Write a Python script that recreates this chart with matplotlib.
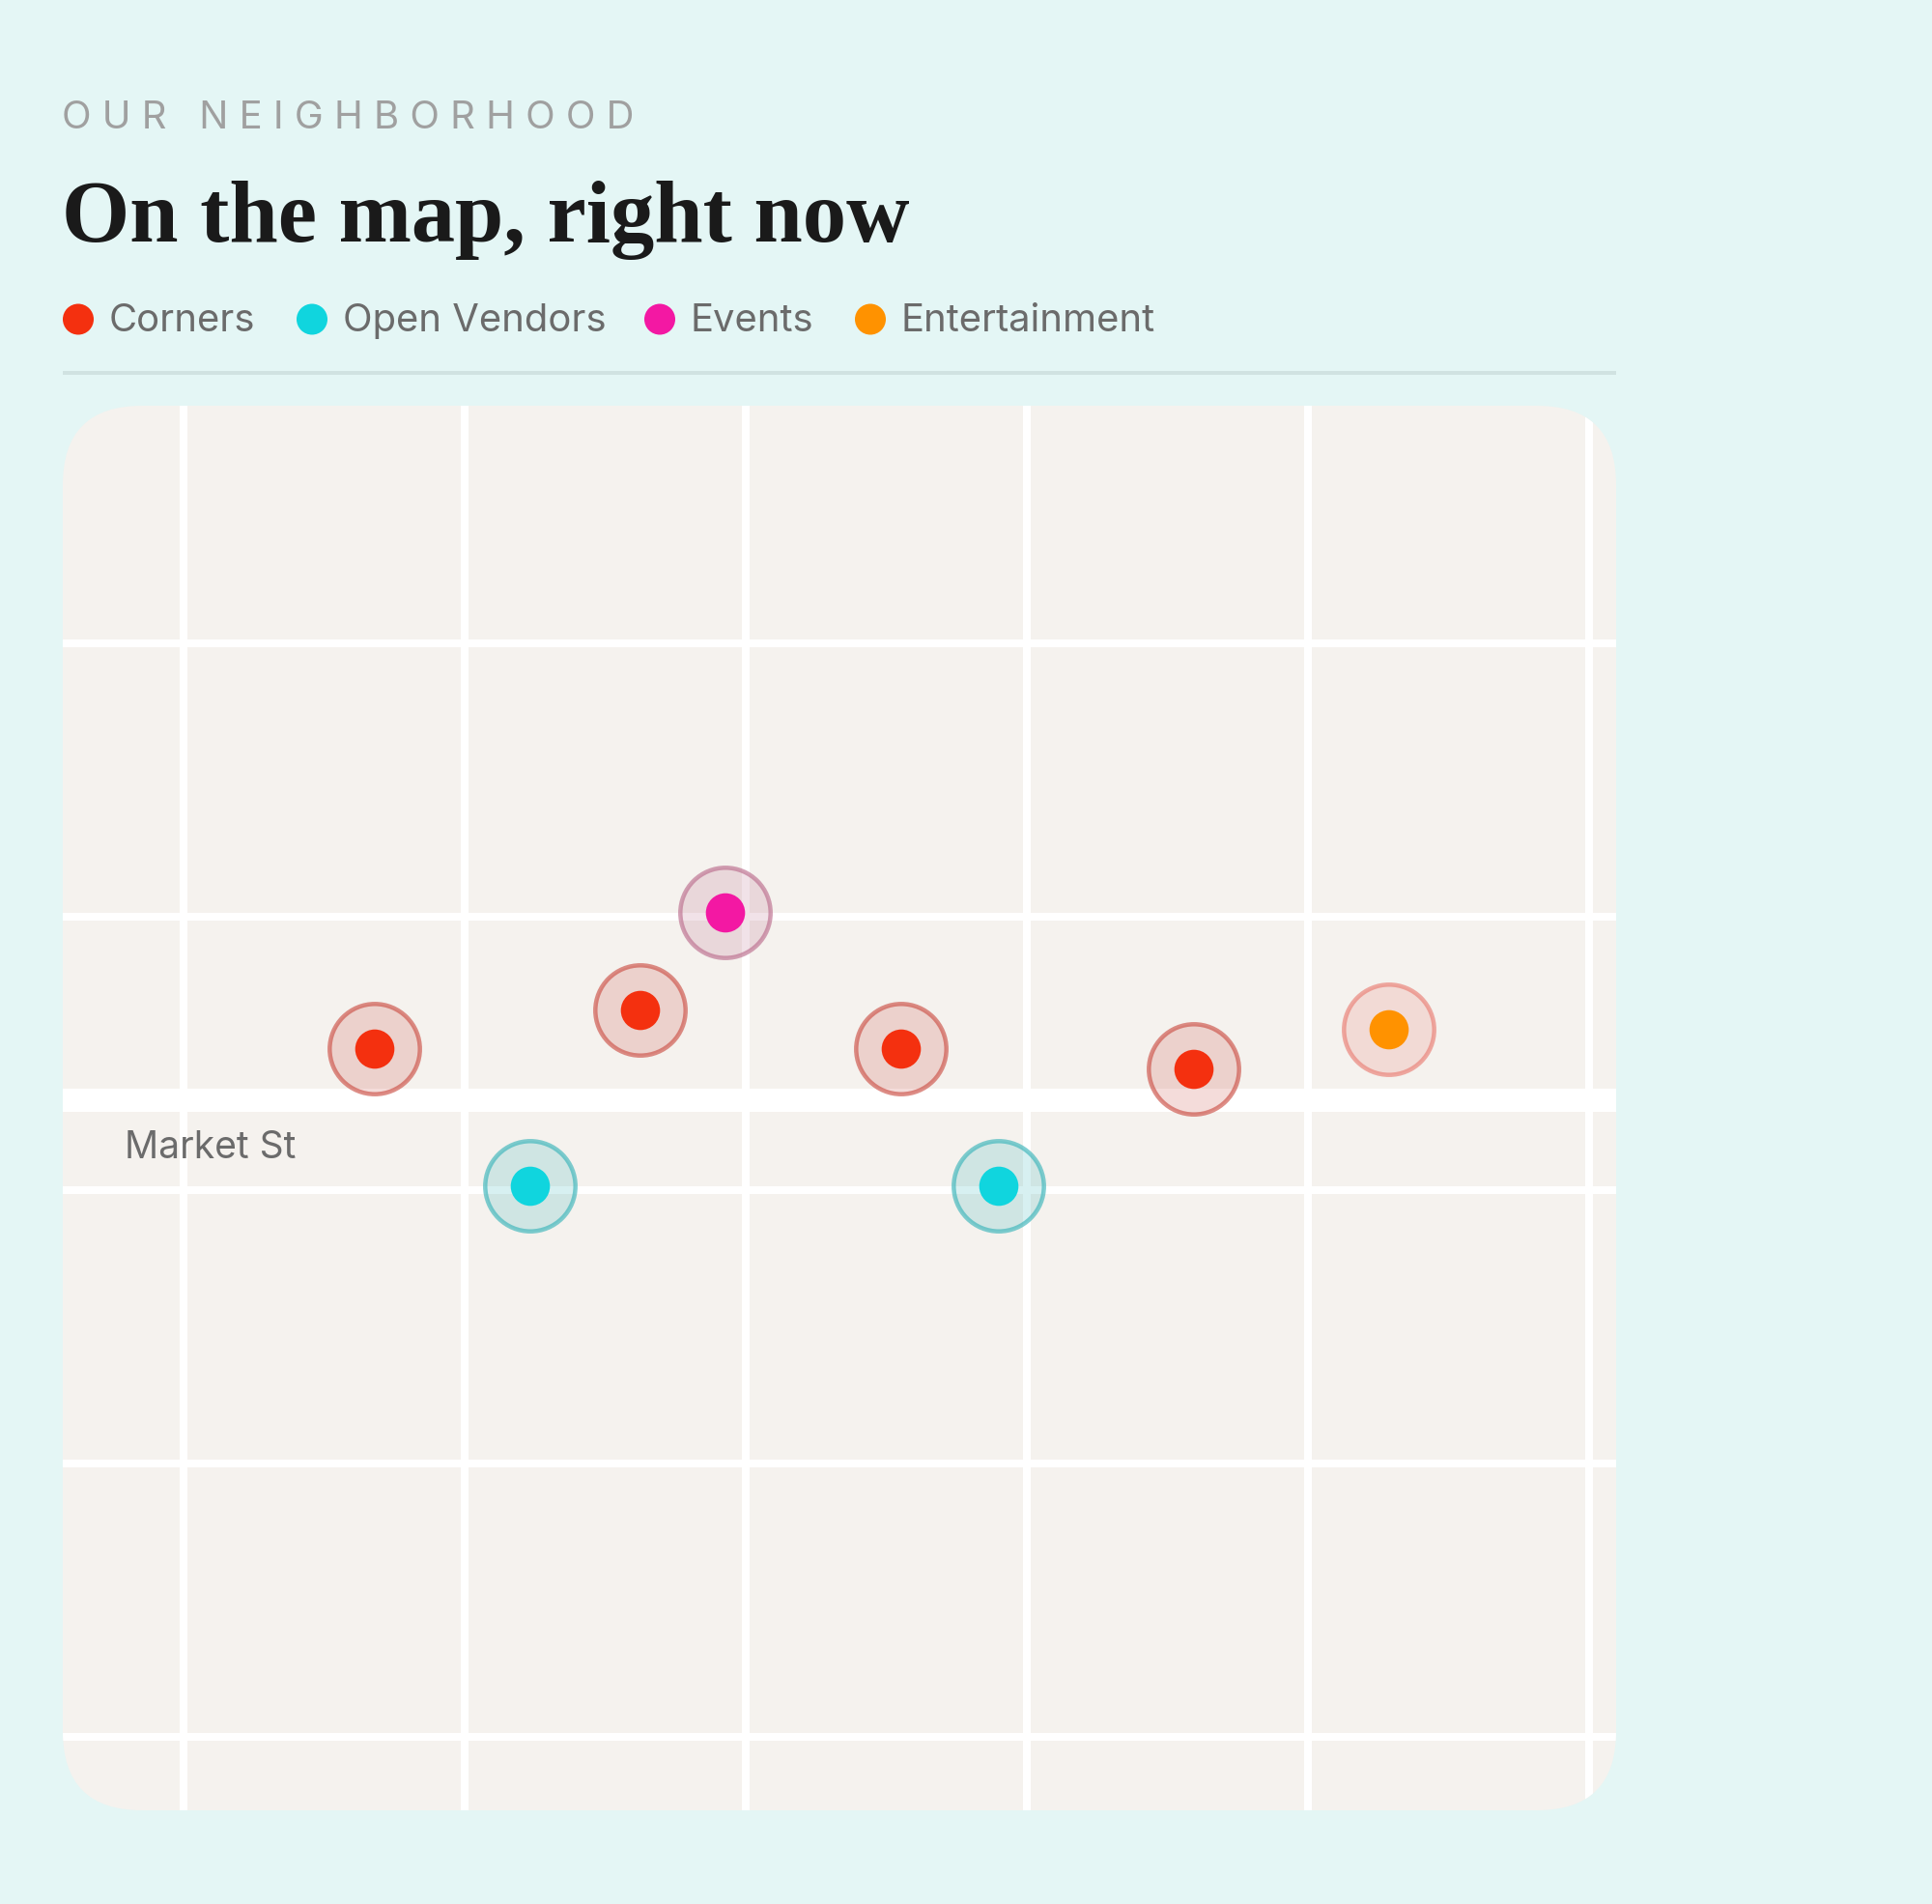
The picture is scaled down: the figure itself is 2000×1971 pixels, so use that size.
import matplotlib
matplotlib.use('Agg')
import matplotlib.pyplot as plt
from matplotlib.patches import Circle, FancyBboxPatch

W, H = 2000, 1971
PX = 0.72  # px -> pt at dpi 100

# street grid, map units (origin at the top-left of the map panel)
map_w, map_h = 1608, 1454
avenues = [125, 416, 707, 998, 1289, 1580]
streets = [246, 529, 812, 1095, 1378]
market_y = 719

# legend
categories = ['Corners', 'Open Vendors', 'Events', 'Entertainment']
dot_colors = ['#F4300F', '#10D5DE', '#F318A3', '#FF9200']
halo_colors = ['#CC5147', '#3BB5BA', '#BC6E8E', '#EA7E74']

# pins per category
corners_x = [323, 598, 868, 1171]
corners_y = [666, 626, 666, 687]
vendors_x = [484, 969]
vendors_y = [808, 808]
events_x = [686]
events_y = [525]
ent_x = [1373]
ent_y = [646]

bg = '#E4F6F5'
panel = '#F5F2EE'
grey = '#6B6B6B'

fig = plt.figure(figsize=(W / 100, H / 100), dpi=100, facecolor=bg)

# header in pixel coordinates
hd = fig.add_axes([0, 0, 1, 1])
hd.set_xlim(0, W)
hd.set_ylim(H, 0)
hd.axis('off')

hd.text(64, 133, 'O U R   N E I G H B O R H O O D', fontsize=40 * PX, family='Inter',
        color='#A0A0A0', va='baseline')
hd.text(64, 250, 'On the map, right now', fontsize=90.5 * PX, family='Liberation Serif',
        weight='bold', color='#1A1A1A', va='baseline')

dot_x = [81, 323, 683, 901]
label_x = [113, 355, 715, 933]
for name, col, dx, lx in zip(categories, dot_colors, dot_x, label_x):
    hd.add_patch(Circle((dx, 330.5), 16, fc=col, ec='none'))
    hd.text(lx, 343, name, fontsize=40 * PX, family='Inter', color=grey, va='baseline')

hd.plot([65, 1673], [385.5, 385.5], color='#D0E2E1', lw=4 * PX, solid_capstyle='butt')

# map panel
ax = fig.add_axes([65 / W, 1 - (420 + map_h) / H, map_w / W, map_h / H])
ax.set_xlim(0, map_w)
ax.set_ylim(map_h, 0)
ax.axis('off')

# quadratic corners look tighter than css ones, so the radius is a bit larger than 70
card = FancyBboxPatch((82, 82), map_w - 164, map_h - 164, boxstyle='round,pad=82,rounding_size=82',
                      fc=panel, ec='none', zorder=0)
ax.add_patch(card)

v = ax.vlines(avenues, 0, map_h, color='white', lw=8 * PX, capstyle='butt', zorder=1)
h = ax.hlines(streets, 0, map_w, color='white', lw=8 * PX, capstyle='butt', zorder=1)
m = ax.hlines([market_y], 0, map_w, color='white', lw=24 * PX, capstyle='butt', zorder=1)
for c in (v, h, m):
    c.set_clip_path(card)

ax.text(64, 779, 'Market St', fontsize=39 * PX, family='Inter', color=grey, va='baseline', zorder=2)

pins = [(corners_x, corners_y), (vendors_x, vendors_y), (events_x, events_y), (ent_x, ent_y)]
for (xs, ys), col, halo in zip(pins, dot_colors, halo_colors):
    for x, y in zip(xs, ys):
        ax.add_patch(Circle((x, y), 46.7, fc=matplotlib.colors.to_rgba(halo, 0.2),
                            ec=matplotlib.colors.to_rgba(halo, 0.65), lw=4.5 * PX, zorder=3))
        ax.add_patch(Circle((x, y), 20.3, fc=col, ec='none', zorder=4))

fig.savefig('out.png', dpi=100, facecolor=bg)
